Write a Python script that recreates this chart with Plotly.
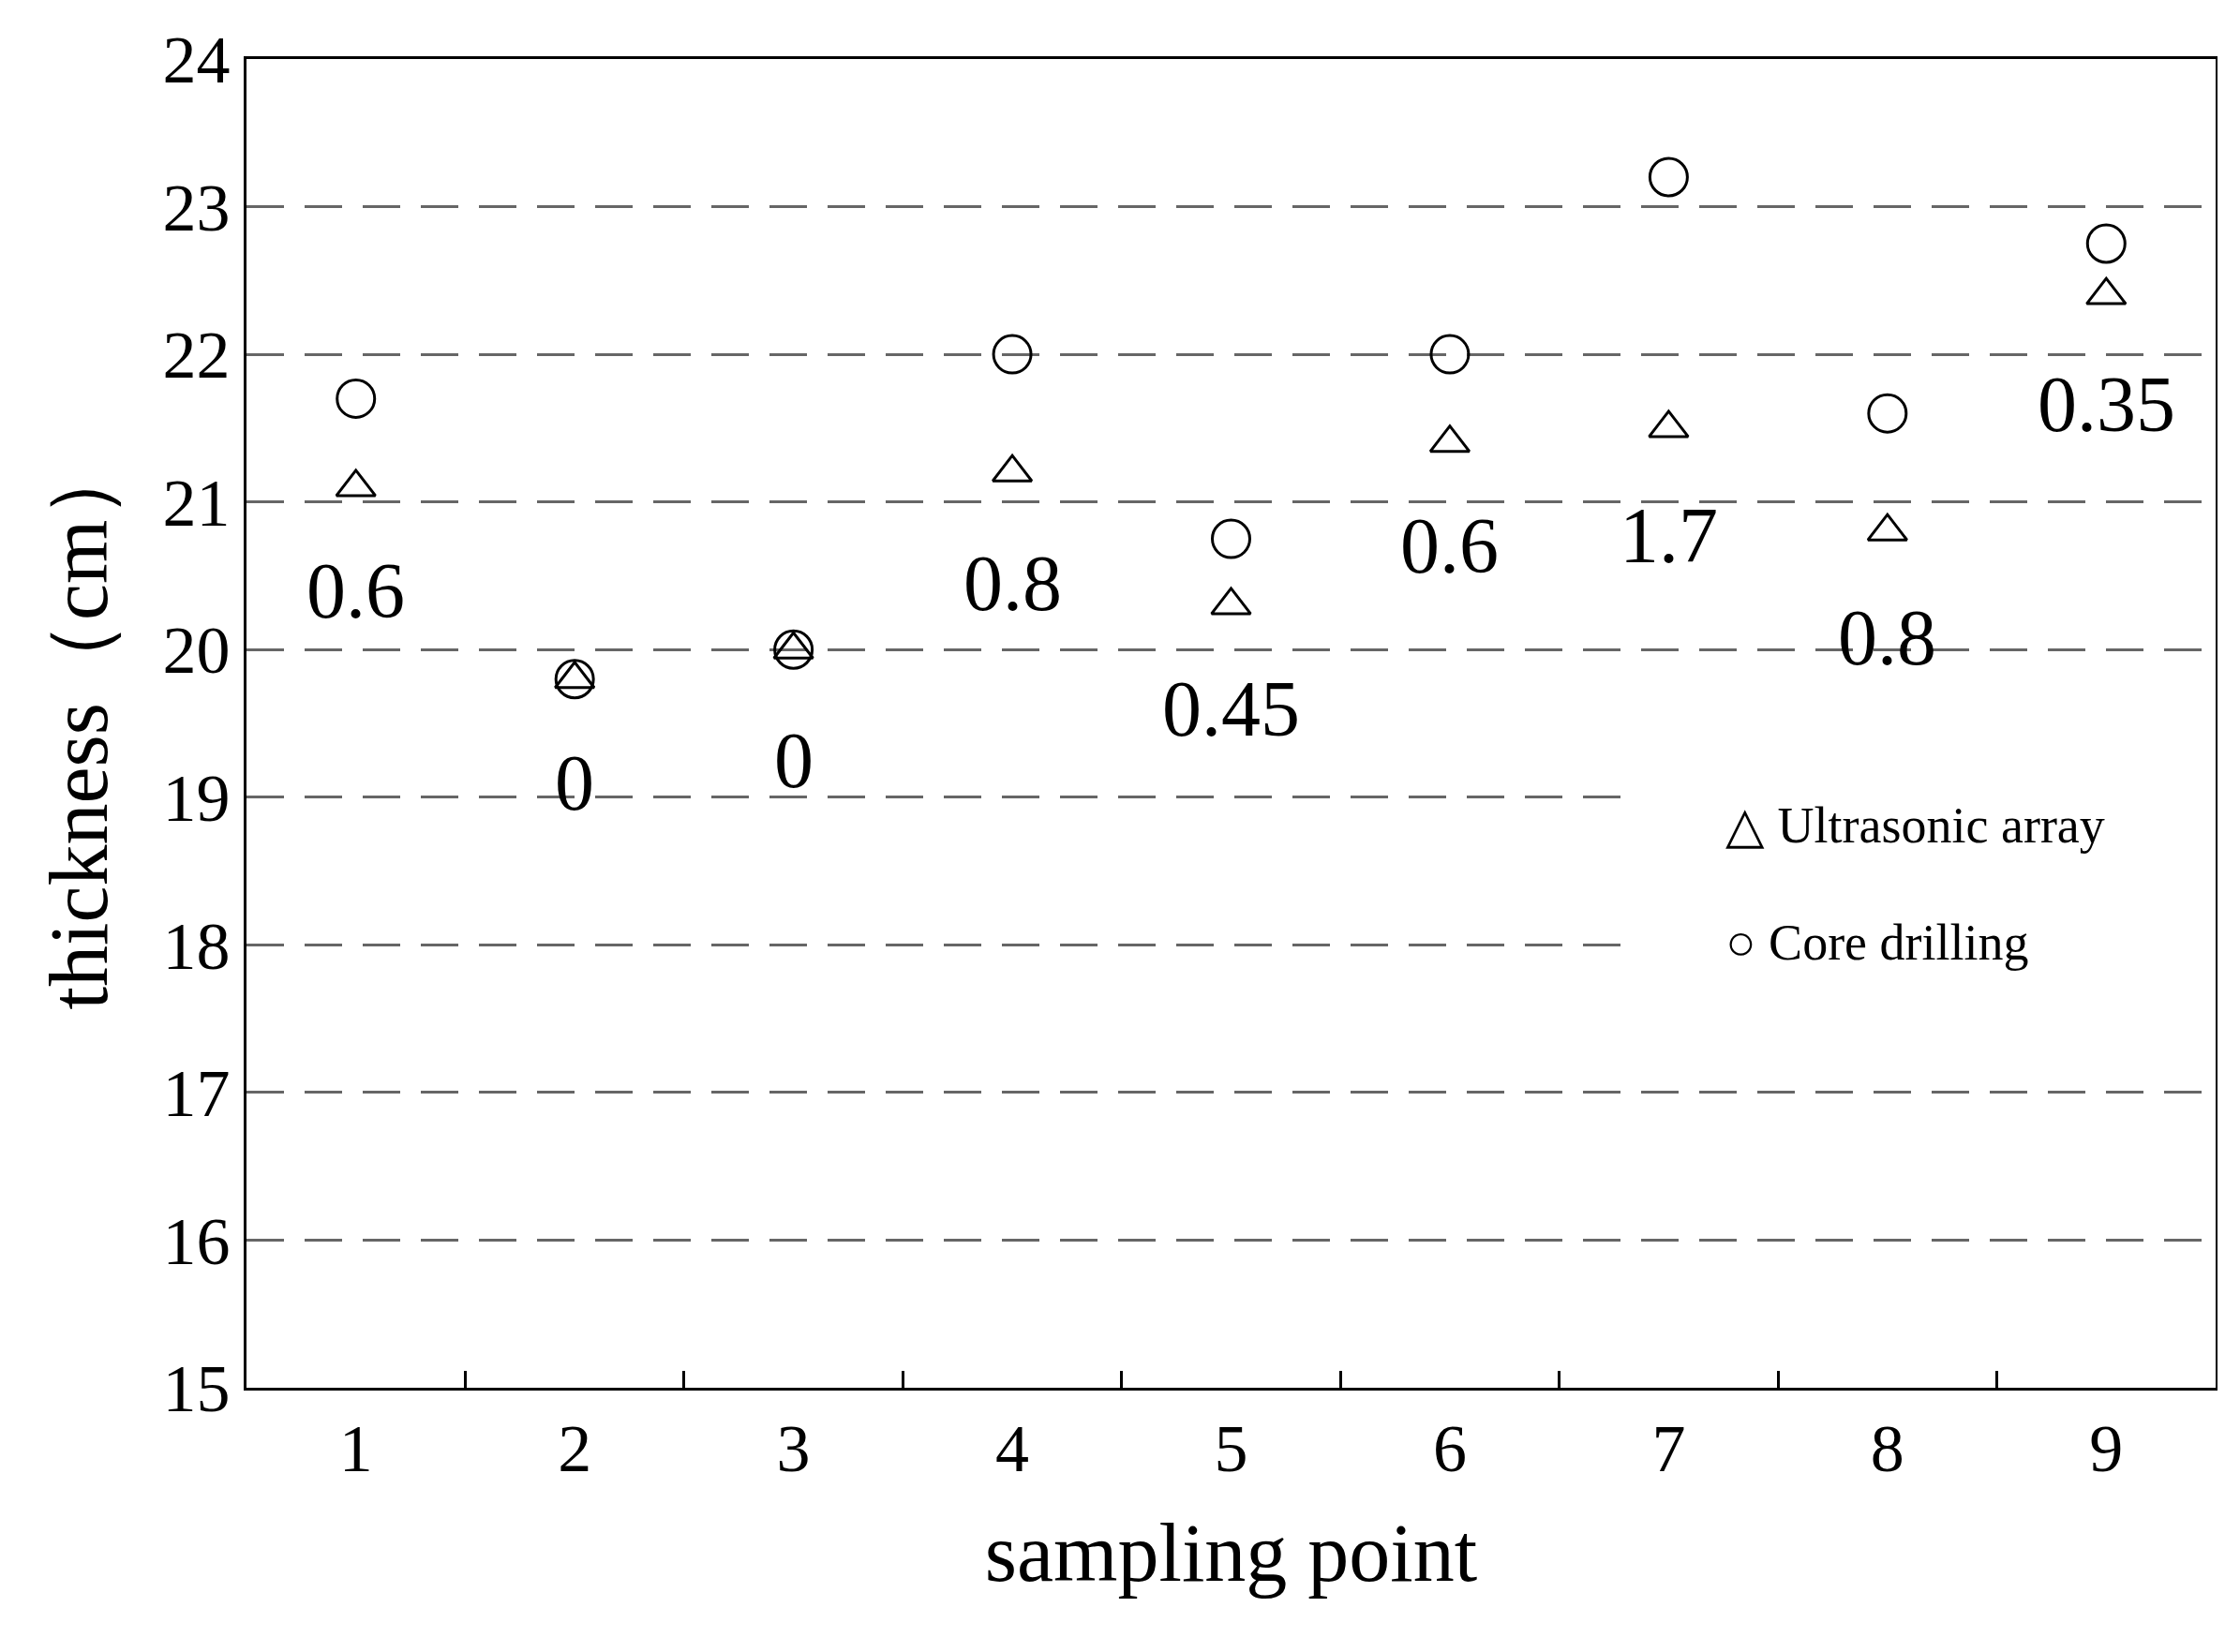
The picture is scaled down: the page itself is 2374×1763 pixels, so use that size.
import plotly.graph_objects as go

points = [1, 2, 3, 4, 5, 6, 7, 8, 9]
ultrasonic = [21.1, 19.8, 20.0, 21.2, 20.3, 21.4, 21.5, 20.8, 22.4]
core = [21.7, 19.8, 20.0, 22.0, 20.75, 22.0, 23.2, 21.6, 22.75]
diff_labels = ["0.6", "0", "0", "0.8", "0.45", "0.6", "1.7", "0.8", "0.35"]
label_y = [20.4, 19.1, 19.25, 20.45, 19.6, 20.7, 20.77, 20.08, 21.66]
legend_names = ["Ultrasonic array", "Core drilling"]

F = "Liberation Serif"
fig = go.Figure()
fig.add_trace(go.Scatter(x=points, y=ultrasonic, mode="markers", name=legend_names[0],
    marker=dict(symbol="triangle-up-open", size=36, color="black", line=dict(width=3))))
fig.add_trace(go.Scatter(x=points, y=core, mode="markers", name=legend_names[1],
    marker=dict(symbol="circle-open", size=40, color="black", line=dict(width=3))))
for x, y, t in zip(points, label_y, diff_labels):
    fig.add_annotation(x=x, y=y, text=t, showarrow=False, font=dict(family=F, size=84, color="black"))

# legend box
fig.add_shape(type="rect", xref="paper", yref="paper", x0=0.70, x1=0.995, y0=0.30, y1=0.47,
              fillcolor="white", line=dict(width=0), layer="above")
fig.add_annotation(xref="paper", yref="paper", x=0.75, y=0.423, xanchor="left",
                   text="△ " + legend_names[0], showarrow=False, font=dict(family=F, size=54))
fig.add_annotation(xref="paper", yref="paper", x=0.75, y=0.335, xanchor="left",
                   text="○ " + legend_names[1], showarrow=False, font=dict(family=F, size=54))

fig.update_layout(
    width=2374, height=1763, paper_bgcolor="white", plot_bgcolor="white",
    margin=dict(l=255, r=18, t=55, b=290),
    font=dict(family=F, color="black"), showlegend=False,
    xaxis=dict(range=[0.5, 9.5], tickvals=points, ticks="", showgrid=False,
               showline=True, linecolor="black", linewidth=3, mirror=True,
               tickfont=dict(size=72), title=dict(text="sampling point", font=dict(size=88), standoff=40),
               minor=dict(tickvals=[1.5, 2.5, 3.5, 4.5, 5.5, 6.5, 7.5, 8.5], ticks="inside",
                          ticklen=18, tickcolor="black", tickwidth=3, showgrid=False)),
    yaxis=dict(range=[15, 24], dtick=1, showgrid=True, gridcolor="#666", griddash="40px,22px",
               gridwidth=3, showline=True, linecolor="black", linewidth=3, mirror=True,
               ticks="", tickfont=dict(size=72), zeroline=False,
               title=dict(text="thickness（cm）", font=dict(size=88), standoff=30)),
)
fig.write_html("out.html")
